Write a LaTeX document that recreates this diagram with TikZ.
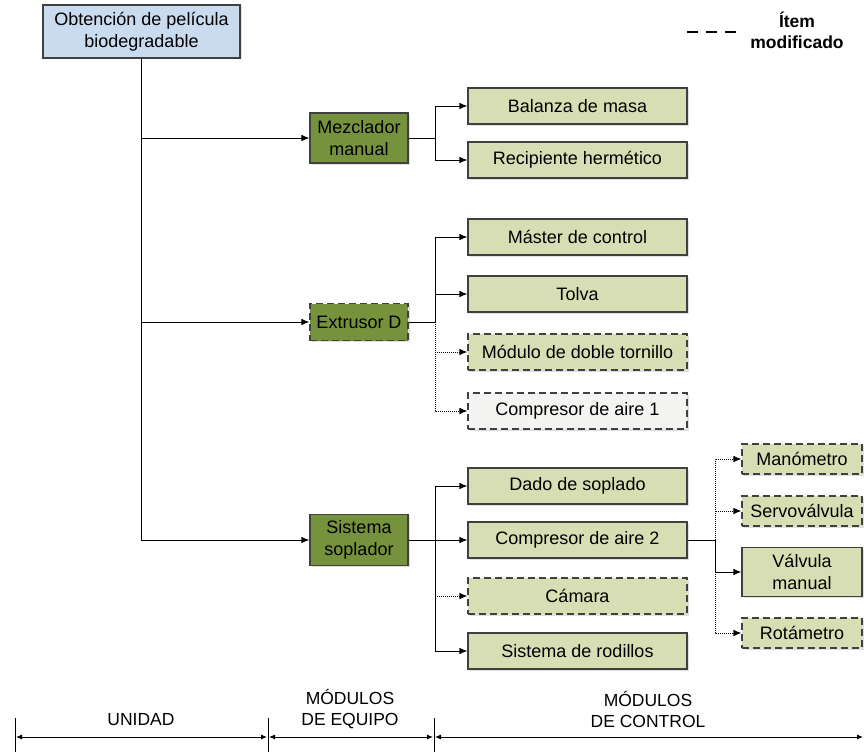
\documentclass[tikz,border=0pt]{standalone}
\usepackage{fontspec}
\setmainfont{Liberation Sans}
\usepackage{tikz}
\usetikzlibrary{arrows.meta}
\usetikzlibrary{shapes}
\usetikzlibrary{shadows}
\definecolor{boxline}{HTML}{404040}
\definecolor{unitblue}{HTML}{C9DBEF}
\definecolor{equipolive}{HTML}{76923C}
\definecolor{ctrlgreen}{HTML}{D7DEB4}
\definecolor{newgray}{HTML}{F4F4F2}
\tikzstyle{BoxNode}=[rectangle, draw=boxline, line width=1.1pt, align=center, font=\fontsize{18}{21.5}\selectfont, drop shadow={opacity=0.25, shadow xshift=1.5pt, shadow yshift=-1.5pt}]
\tikzstyle{UnitNode}=[BoxNode, fill=unitblue, minimum width=197, minimum height=53]
\tikzstyle{EquipNode}=[BoxNode, fill=equipolive, minimum width=98]
\tikzstyle{NewEquipNode}=[EquipNode, dash pattern=on 7pt off 4pt]
\tikzstyle{CtrlNode}=[BoxNode, fill=ctrlgreen, minimum width=219, minimum height=36]
\tikzstyle{NewCtrlNode}=[CtrlNode, dash pattern=on 7pt off 4pt]
\tikzstyle{SubNode}=[CtrlNode, minimum width=120, minimum height=30]
\tikzstyle{NewSubNode}=[SubNode, dash pattern=on 7pt off 4pt]
\tikzstyle{LabelNode}=[align=center, font=\fontsize{17.5}{21}\selectfont]
\tikzstyle{Edge}=[line width=1pt, black]
\tikzstyle{OpenEdge}=[Edge, ->]
\tikzstyle{NewOpenEdge}=[OpenEdge, densely dotted]
\tikzstyle{ScaleEdge}=[line width=0.9pt, {Latex[length=6pt,width=5pt]}-{Latex[length=6pt,width=5pt]}]
\tikzset{>={Latex[length=8pt,width=6.5pt]}}

\begin{document}
\begin{tikzpicture}[x=1pt, y=-1pt]
\useasboundingbox (0,0) rectangle (864,752);

\node[UnitNode](UNI) at (141.5,31.5) {Obtención de película\\biodegradable};

\node[EquipNode, minimum height=50](MEZ) at (359,138) {Mezclador\\manual};
\node[NewEquipNode, minimum height=37](EXT) at (359,322) {Extrusor D};
\node[EquipNode, minimum height=51](SOP) at (359,540) {Sistema\\soplador};

\node[CtrlNode](BAL) at (577.5,106) {Balanza de masa};
\node[CtrlNode](REC) at (577.5,160) {Recipiente hermético};
\node[CtrlNode](MAS) at (577.5,237) {Máster de control};
\node[CtrlNode](TOL) at (577.5,294) {Tolva};
\node[NewCtrlNode](MOD) at (577.5,352) {Módulo de doble tornillo};
\node[NewCtrlNode, fill=newgray](CMP1) at (577.5,411) {Compresor de aire 1};
\node[CtrlNode](DAD) at (577.5,486) {Dado de soplado};
\node[CtrlNode](CMP2) at (577.5,540) {Compresor de aire 2};
\node[NewCtrlNode](CAM) at (577.5,596) {Cámara};
\node[CtrlNode](ROD) at (577.5,651) {Sistema de rodillos};

\node[NewSubNode](MAN) at (802,459) {Manómetro};
\node[NewSubNode](SRV) at (802,511) {Servoválvula};
\node[SubNode, minimum height=49](VAL) at (802,572) {Válvula\\manual};
\node[NewSubNode](ROT) at (802,633) {Rotámetro};

\coordinate(MEZS) at (435,138);
\coordinate(EXTS) at (435,322);
\coordinate(SOPS) at (435,540);
\coordinate(CMPS) at (715,540);

\draw[OpenEdge](UNI.south) |- (MEZ.west);
\draw[OpenEdge](UNI.south) |- (EXT.west);
\draw[OpenEdge](UNI.south) |- (SOP.west);

\draw[Edge](MEZ.east) -- (MEZS);
\draw[OpenEdge](MEZS) |- (BAL.west);
\draw[OpenEdge](MEZS) |- (REC.west);

\draw[Edge](EXT.east) -- (EXTS);
\draw[OpenEdge](EXTS) |- (MAS.west);
\draw[OpenEdge](EXTS) |- (TOL.west);
\draw[NewOpenEdge](EXTS) |- (MOD.west);
\draw[NewOpenEdge](EXTS) |- (CMP1.west);

\draw[Edge](SOP.east) -- (SOPS);
\draw[OpenEdge](SOPS) |- (DAD.west);
\draw[OpenEdge](SOPS) -- (CMP2.west);
\draw[NewOpenEdge](SOPS) |- (CAM.west);
\draw[OpenEdge](SOPS) |- (ROD.west);

\draw[Edge](CMP2.east) -- (CMPS);
\draw[NewOpenEdge](CMPS) |- (MAN.west);
\draw[NewOpenEdge](CMPS) |- (SRV.west);
\draw[OpenEdge](CMPS) |- (VAL.west);
\draw[NewOpenEdge](CMPS) |- (ROT.west);

\draw[line width=1.1pt, dash pattern=on 11pt off 8pt](687,32) -- (743,32);
\node[LabelNode, font=\fontsize{17.5}{21}\selectfont\bfseries](LEG) at (797,30) {Ítem\\modificado};

\coordinate(T1) at (15,718);
\coordinate(T2) at (268,718);
\coordinate(T3) at (434,718);
\draw[line width=0.9pt](T1) -- (15,752);
\draw[line width=0.9pt](T2) -- (268,752);
\draw[line width=0.9pt](T3) -- (434,752);
\draw[ScaleEdge](16,737) -- (267,737);
\draw[ScaleEdge](269,737) -- (433,737);
\draw[ScaleEdge](435,737) -- (863,737);

\node[LabelNode](LUNI) at (141,720) {UNIDAD};
\node[LabelNode](LEQU) at (350,709) {MÓDULOS\\DE EQUIPO};
\node[LabelNode](LCTL) at (648,709) {MÓDULOS\\DE CONTROL};
\end{tikzpicture}
\end{document}
